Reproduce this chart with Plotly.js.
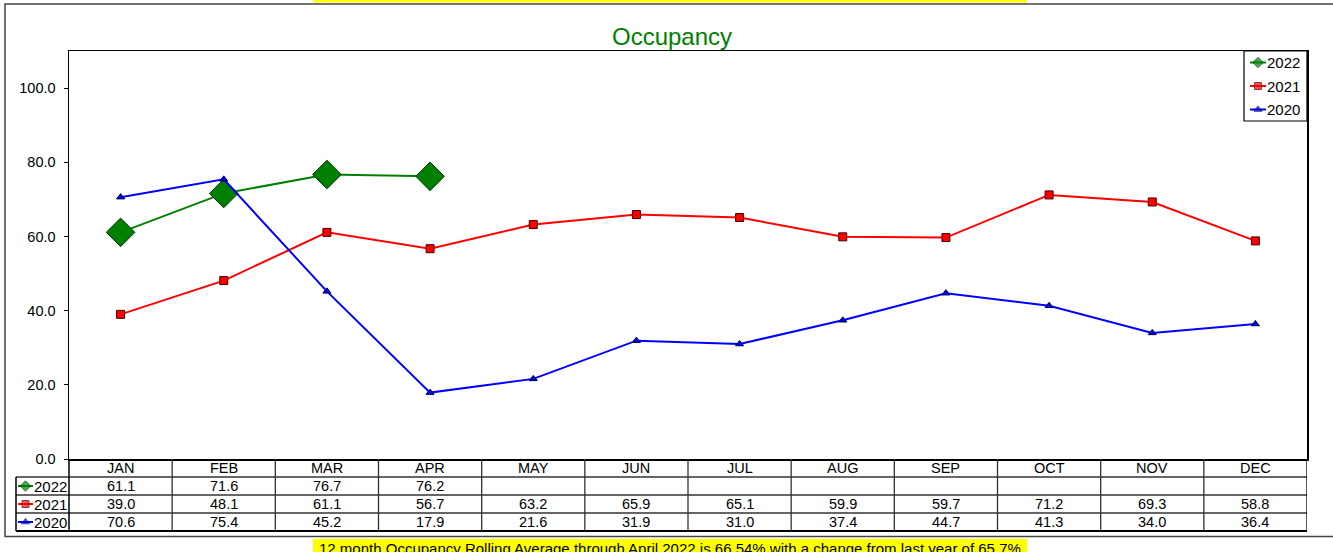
<!DOCTYPE html>
<html>
<head>
<meta charset="utf-8">
<script src="https://cdn.plot.ly/plotly-3.0.1.min.js"></script>
<style>html,body{margin:0;padding:0;background:#fff;}#chart{width:1333px;height:552px;}</style>
</head>
<body>
<div id="chart"></div>
<script>
// ---- data ----
const months = ['JAN','FEB','MAR','APR','MAY','JUN','JUL','AUG','SEP','OCT','NOV','DEC'];
const years = ['2022','2021','2020'];
const occ2022 = [61.1, 71.6, 76.7, 76.2];
const occ2021 = [39.0, 48.1, 61.1, 56.7, 63.2, 65.9, 65.1, 59.9, 59.7, 71.2, 69.3, 58.8];
const occ2020 = [70.6, 75.4, 45.2, 17.9, 21.6, 31.9, 31.0, 37.4, 44.7, 41.3, 34.0, 36.4];
const yTicks = [0, 20, 40, 60, 80, 100];
const titleText = 'Occupancy';
const footText = '12 month Occupancy Rolling Average through April 2022 is 66.54% with a change from last year of 65.7%';

// ---- layout constants (pixels) ----
const W = 1333, H = 552;
const L = 16, R = 1307, T = 51, B = 531;   // paper area
const plotLeft = 69, plotBottom = 459;
const rowLines = [477, 495, 513, 531];
const rowCenters = [486, 504, 522];
const headerCenter = 468;
const legBox = {x0: 1244, x1: 1307, y0: 51, y1: 121};
const legRows = [62.5, 86, 109.5];
const pw = R - L, ph = B - T;
const px = p => (p - L) / pw;
const py = p => (B - p) / ph;

const FONT = '"Liberation Sans", Arial, sans-serif';
const styles = [
  {color: '#008000', symbol: 'diamond', size: 22, lc: '#003000', legSize: 8},
  {color: '#ff0000', symbol: 'square', size: 8, lc: '#400000', legSize: 7},
  {color: '#0000ff', symbol: 'triangle-up', size: 7, lc: '#000040', legSize: 7}
];
const series = [occ2022, occ2021, occ2020];

const traces = [];
series.forEach((vals, i) => {
  const s = styles[i];
  traces.push({
    type: 'scatter', mode: 'lines+markers', name: years[i],
    x: months.slice(0, vals.length), y: vals,
    line: {color: s.color, width: 2},
    marker: {symbol: s.symbol, size: s.size, color: s.color, line: {color: s.lc, width: 1}},
    showlegend: false, hoverinfo: 'x+y+name'
  });
});
// legend icons (table legend and box legend)
years.forEach((yr, i) => {
  const s = styles[i];
  traces.push({
    type: 'scatter', mode: 'lines+markers', xaxis: 'x2', yaxis: 'y2',
    x: [18, 25.5, 33], y: [rowCenters[i], rowCenters[i], rowCenters[i]],
    line: {color: s.color, width: 2},
    marker: {symbol: s.symbol, size: [0, s.legSize, 0], color: s.color, line: {color: s.lc, width: 1}},
    showlegend: false, hoverinfo: 'skip'
  });
  traces.push({
    type: 'scatter', mode: 'lines+markers', xaxis: 'x3', yaxis: 'y3',
    x: [1250, 1258, 1266], y: [legRows[i], legRows[i], legRows[i]],
    line: {color: s.color, width: 2},
    marker: {symbol: s.symbol, size: [0, s.legSize, 0], color: s.color, line: {color: s.lc, width: 1}},
    showlegend: false, hoverinfo: 'skip'
  });
});

const shapes = [];
const gridColor = '#333';
// outer frame
shapes.push({type: 'rect', xref: 'paper', yref: 'paper', x0: px(5), x1: px(1336), y0: py(536.5), y1: py(4),
  line: {color: '#444', width: 1.5}, fillcolor: 'rgba(0,0,0,0)', layer: 'below'});
// top yellow strip
shapes.push({type: 'rect', xref: 'paper', yref: 'paper', x0: px(313), x1: px(1027), y0: py(2.5), y1: py(-2),
  line: {width: 0}, fillcolor: '#ffff00'});
// bottom yellow box
shapes.push({type: 'rect', xref: 'paper', yref: 'paper', x0: px(313), x1: px(1027), y0: py(556), y1: py(539),
  line: {width: 0}, fillcolor: '#ffff00'});
// legend box
shapes.push({type: 'rect', xref: 'paper', yref: 'paper', x0: px(legBox.x0), x1: px(legBox.x1), y0: py(legBox.y1), y1: py(legBox.y0),
  line: {color: '#000', width: 1.2}, fillcolor: 'rgba(0,0,0,0)', layer: 'above'});
// table horizontal lines
rowLines.forEach((p, k) => {
  shapes.push({type: 'line', xref: 'paper', yref: 'paper', x0: 0, x1: 1, y0: py(p), y1: py(p),
    line: {color: k === rowLines.length - 1 ? '#000' : gridColor, width: k === rowLines.length - 1 ? 2 : 1.3}});
});
// table left border
shapes.push({type: 'line', xref: 'paper', yref: 'paper', x0: 0, x1: 0, y0: 0, y1: py(rowLines[0]),
  line: {color: '#000', width: 1.5}});
// y-axis extension through table
shapes.push({type: 'line', xref: 'paper', yref: 'paper', x0: px(plotLeft), x1: px(plotLeft), y0: 0, y1: py(plotBottom),
  line: {color: '#000', width: 1.5}});
// column separators
for (let c = 1; c <= months.length; c++) {
  shapes.push({type: 'line', xref: 'x', yref: 'paper', x0: c - 0.5, x1: c - 0.5, y0: 0, y1: py(plotBottom),
    line: {color: c === months.length ? '#000' : gridColor, width: 1.3}});
}

const annotations = [];
// month header labels
months.forEach(m => annotations.push({xref: 'x', yref: 'paper', x: m, y: py(headerCenter), text: m,
  showarrow: false, font: {family: FONT, size: 14.5, color: '#000'}, yanchor: 'middle'}));
// table values
series.forEach((vals, i) => {
  vals.forEach((v, j) => annotations.push({xref: 'x', yref: 'paper', x: months[j], y: py(rowCenters[i]),
    text: v.toFixed(1), showarrow: false, font: {family: FONT, size: 14.5, color: '#000'}, yanchor: 'middle'}));
  annotations.push({xref: 'x2', yref: 'y2', x: 33, xanchor: 'left', y: rowCenters[i], text: years[i],
    showarrow: false, font: {family: FONT, size: 15, color: '#000'}, yanchor: 'middle', borderpad: 0});
  annotations.push({xref: 'x3', yref: 'y3', x: 1265.5, xanchor: 'left', y: legRows[i], text: years[i],
    showarrow: false, font: {family: FONT, size: 15, color: '#000'}, yanchor: 'middle', borderpad: 0});
});
// footer
annotations.push({xref: 'paper', yref: 'paper', x: px(670), y: py(548), text: footText, showarrow: false,
  borderpad: 0, font: {family: FONT, size: 15, color: '#000'}, yanchor: 'middle'});

const layout = {
  width: W, height: H,
  margin: {l: L, r: W - R, t: T, b: H - B, pad: 0},
  paper_bgcolor: '#fff', plot_bgcolor: '#fff',
  font: {family: FONT, size: 14, color: '#000'},
  title: {text: titleText, font: {family: FONT, size: 24, color: '#008000'},
    x: px(672), xref: 'paper', xanchor: 'center', y: 1 - 37 / H, yref: 'container', yanchor: 'middle'},
  xaxis: {type: 'category', domain: [px(plotLeft), 1], range: [-0.5, months.length - 0.5],
    showticklabels: false, ticks: '', showgrid: false, zeroline: false,
    showline: true, linecolor: '#000', linewidth: 1.5, mirror: true, fixedrange: true},
  yaxis: {domain: [py(plotBottom), 1], range: [0, 110], tickvals: yTicks, tickformat: '.1f',
    ticks: 'outside', ticklen: 4, tickcolor: '#000', showgrid: false, zeroline: false,
    showline: true, linecolor: '#000', linewidth: 1.5, mirror: true, ticklabelstandoff: 5,
    tickfont: {family: FONT, size: 14.5, color: '#000'}, fixedrange: true},
  xaxis2: {domain: [0, px(plotLeft)], range: [L, plotLeft], visible: false, anchor: 'y2', fixedrange: true},
  yaxis2: {domain: [0, py(rowLines[0])], range: [B, rowLines[0]], visible: false, anchor: 'x2', fixedrange: true},
  xaxis3: {domain: [px(legBox.x0), px(legBox.x1)], range: [legBox.x0, legBox.x1], visible: false, anchor: 'y3', fixedrange: true},
  yaxis3: {domain: [py(legBox.y1), py(legBox.y0)], range: [legBox.y1, legBox.y0], visible: false, anchor: 'x3', fixedrange: true},
  shapes: shapes,
  annotations: annotations,
  showlegend: false
};

Plotly.newPlot('chart', traces, layout, {displayModeBar: false, staticPlot: true});
</script>
</body>
</html>
